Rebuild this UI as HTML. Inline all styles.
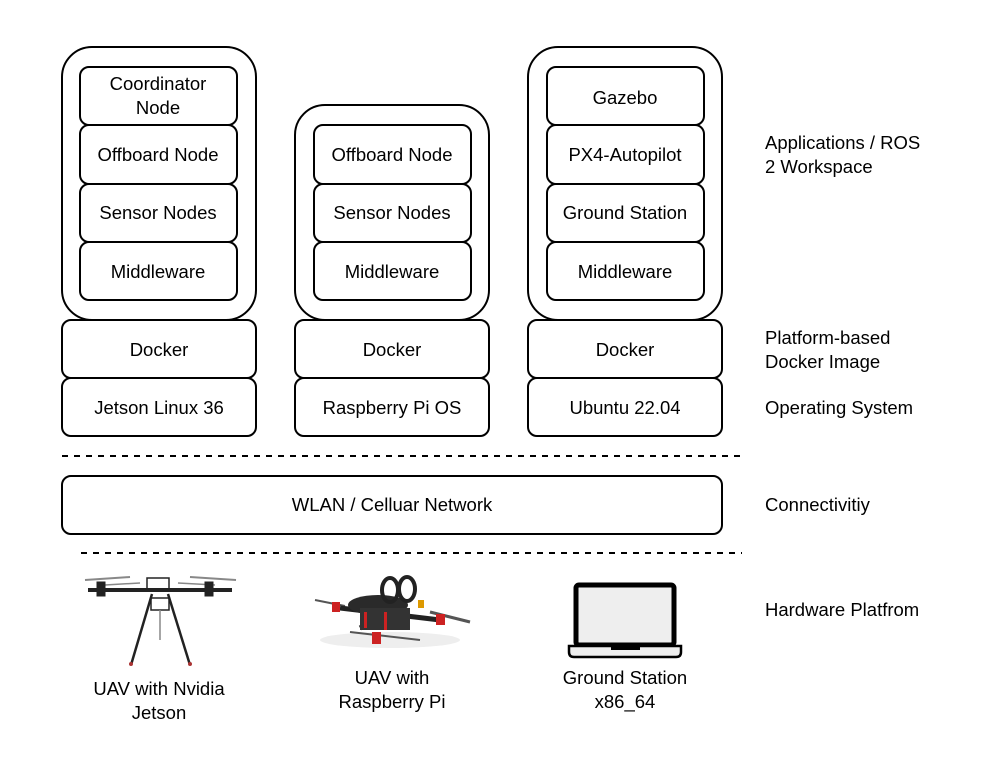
<!DOCTYPE html>
<html><head><meta charset="utf-8"><style>
body{margin:0;background:#fff;}
svg text{font-family:"Liberation Sans",Arial,sans-serif;font-size:18.5px;fill:#000;}
</style></head><body>
<svg width="996" height="776" viewBox="0 0 996 776" xmlns="http://www.w3.org/2000/svg">
<g fill="#fff" stroke="#000" stroke-width="2">
<rect x="62" y="47" width="194" height="273" rx="30"/>
<rect x="80" y="67" width="157" height="58" rx="9"/>
<rect x="80" y="125" width="157" height="59" rx="9"/>
<rect x="80" y="184" width="157" height="58" rx="9"/>
<rect x="80" y="242" width="157" height="58" rx="9"/>
<rect x="62" y="320" width="194" height="58" rx="9"/>
<rect x="62" y="378" width="194" height="58" rx="9"/>
<rect x="295" y="105" width="194" height="215" rx="30"/>
<rect x="314" y="125" width="157" height="59" rx="9"/>
<rect x="314" y="184" width="157" height="58" rx="9"/>
<rect x="314" y="242" width="157" height="58" rx="9"/>
<rect x="295" y="320" width="194" height="58" rx="9"/>
<rect x="295" y="378" width="194" height="58" rx="9"/>
<rect x="528" y="47" width="194" height="273" rx="30"/>
<rect x="547" y="67" width="157" height="58" rx="9"/>
<rect x="547" y="125" width="157" height="59" rx="9"/>
<rect x="547" y="184" width="157" height="58" rx="9"/>
<rect x="547" y="242" width="157" height="58" rx="9"/>
<rect x="528" y="320" width="194" height="58" rx="9"/>
<rect x="528" y="378" width="194" height="58" rx="9"/>
<rect x="62" y="476" width="660" height="58" rx="9"/>
</g>
<g stroke="#000" stroke-width="2" stroke-dasharray="6 6">
<line x1="62" y1="456" x2="742" y2="456"/>
<line x1="81" y1="553" x2="742" y2="553"/>
</g>
<g text-anchor="middle">
<text x="158" y="90">Coordinator</text><text x="158" y="114">Node</text>
<text x="158" y="161">Offboard Node</text>
<text x="158" y="219">Sensor Nodes</text>
<text x="158" y="278">Middleware</text>
<text x="159" y="356">Docker</text>
<text x="159" y="414">Jetson Linux 36</text>
<text x="392" y="161">Offboard Node</text>
<text x="392" y="219">Sensor Nodes</text>
<text x="392" y="278">Middleware</text>
<text x="392" y="356">Docker</text>
<text x="392" y="414">Raspberry Pi OS</text>
<text x="625" y="104">Gazebo</text>
<text x="625" y="161">PX4-Autopilot</text>
<text x="625" y="219">Ground Station</text>
<text x="625" y="278">Middleware</text>
<text x="625" y="356">Docker</text>
<text x="625" y="414">Ubuntu 22.04</text>
<text x="392" y="511">WLAN / Celluar Network</text>
<text x="159" y="695">UAV with Nvidia</text><text x="159" y="719">Jetson</text>
<text x="392" y="684">UAV with</text><text x="392" y="708">Raspberry Pi</text>
<text x="625" y="684">Ground Station</text><text x="625" y="708">x86_64</text>
</g>
<g>
<text x="765" y="149">Applications / ROS</text><text x="765" y="173">2 Workspace</text>
<text x="765" y="344">Platform-based</text><text x="765" y="368">Docker Image</text>
<text x="765" y="414">Operating System</text>
<text x="765" y="511">Connectivitiy</text>
<text x="765" y="616">Hardware Platfrom</text>
</g>
<g stroke="#222" fill="#222">
<line x1="88" y1="590" x2="232" y2="590" stroke-width="4"/>
<rect x="147" y="578" width="22" height="13" fill="none" stroke-width="1.5"/>
<line x1="85" y1="580" x2="130" y2="577" stroke="#888" stroke-width="2"/>
<line x1="190" y1="577" x2="236" y2="580" stroke="#888" stroke-width="2"/>
<line x1="105" y1="585" x2="140" y2="583" stroke="#888" stroke-width="1.5"/>
<line x1="178" y1="583" x2="215" y2="585" stroke="#888" stroke-width="1.5"/>
<rect x="97" y="582" width="8" height="14"/>
<rect x="205" y="582" width="8" height="14"/>
<line x1="152" y1="594" x2="131" y2="665" stroke-width="2.5"/>
<line x1="168" y1="594" x2="190" y2="665" stroke-width="2.5"/>
<rect x="151" y="598" width="18" height="12" fill="none" stroke-width="1.5"/>
<line x1="160" y1="610" x2="160" y2="640" stroke="#888" stroke-width="1.5"/>
<circle cx="131" cy="664" r="2" fill="#a33" stroke="none"/>
<circle cx="190" cy="664" r="2" fill="#a33" stroke="none"/>
</g>
<g>
<ellipse cx="390" cy="640" rx="70" ry="8" fill="#eee"/>
<line x1="315" y1="600" x2="345" y2="606" stroke="#555" stroke-width="2"/>
<line x1="430" y1="612" x2="470" y2="622" stroke="#555" stroke-width="3"/>
<line x1="340" y1="608" x2="440" y2="620" stroke="#222" stroke-width="5"/>
<line x1="395" y1="610" x2="360" y2="628" stroke="#222" stroke-width="5"/>
<line x1="350" y1="632" x2="420" y2="640" stroke="#555" stroke-width="2"/>
<ellipse cx="378" cy="605" rx="30" ry="10" fill="#2a2a2a"/>
<rect x="360" y="608" width="50" height="22" fill="#333"/>
<rect x="364" y="612" width="3" height="16" fill="#c22"/>
<rect x="384" y="612" width="3" height="18" fill="#c22"/>
<ellipse cx="390" cy="590" rx="8" ry="12" fill="none" stroke="#222" stroke-width="4"/>
<ellipse cx="407" cy="589" rx="8" ry="12" fill="none" stroke="#222" stroke-width="4"/>
<rect x="332" y="602" width="8" height="10" fill="#c22"/>
<rect x="436" y="614" width="9" height="11" fill="#c22"/>
<rect x="372" y="632" width="9" height="12" fill="#c22"/>
<rect x="418" y="600" width="6" height="8" fill="#d90"/>
</g>
<g>
<rect x="576" y="585" width="98" height="60" rx="3" fill="#eee" stroke="#000" stroke-width="5"/>
<path d="M569 646 H681 V652 Q681 657 676 657 H574 Q569 657 569 652 Z" fill="#eee" stroke="#000" stroke-width="2.5"/>
<rect x="611" y="645" width="29" height="5" fill="#000"/>
</g>
</svg>
</body></html>
